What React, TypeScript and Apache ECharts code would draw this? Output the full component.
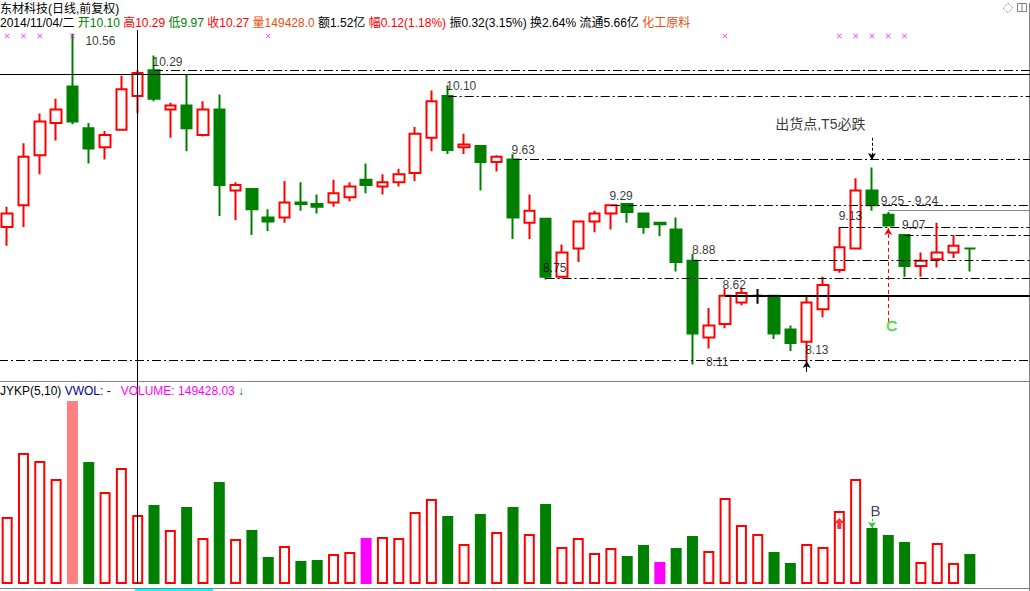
import React, { useEffect, useRef } from 'react';
import * as echarts from 'echarts';

// ---------- data ----------
const dates = [
  '2014/10/23', '2014/10/24', '2014/10/27', '2014/10/28', '2014/10/29', '2014/10/30', '2014/10/31', '2014/11/03',
  '2014/11/04', '2014/11/05', '2014/11/06', '2014/11/07', '2014/11/10', '2014/11/11', '2014/11/12', '2014/11/13',
  '2014/11/14', '2014/11/17', '2014/11/18', '2014/11/19', '2014/11/20', '2014/11/21', '2014/11/24', '2014/11/25',
  '2014/11/26', '2014/11/27', '2014/11/28', '2014/12/01', '2014/12/02', '2014/12/03', '2014/12/04', '2014/12/05',
  '2014/12/08', '2014/12/09', '2014/12/10', '2014/12/11', '2014/12/12', '2014/12/15', '2014/12/16', '2014/12/17',
  '2014/12/18', '2014/12/19', '2014/12/22', '2014/12/23', '2014/12/24', '2014/12/25', '2014/12/26', '2014/12/29',
  '2014/12/30', '2014/12/31', '2015/01/05', '2015/01/06', '2015/01/07', '2015/01/08', '2015/01/09', '2015/01/12',
  '2015/01/13', '2015/01/14', '2015/01/15', '2015/01/16', ' ', '  ', '   ', '    ',
];

const opens = [
  9.13, 9.29, 9.66, 9.90, 10.17, 9.86, 9.72, 9.85, 10.10, 10.29,
  10.00, 10.03, 9.81, 10.00, 9.40, 9.41, 9.20, 9.20, 9.31, 9.30,
  9.31, 9.35, 9.48, 9.43, 9.46, 9.53, 9.79, 10.10, 9.72, 9.73,
  9.61, 9.63, 9.16, 9.19, 8.76, 8.97, 9.17, 9.23, 9.30, 9.23,
  9.16, 9.11, 8.88, 8.31, 8.41, 8.57, 8.62, 8.62, 8.37, 8.28,
  8.52, 8.81, 8.97, 9.40, 9.22, 9.07, 8.84, 8.89, 8.94, 8.97,
];
const closes = [
  9.23, 9.65, 9.91, 10.00, 9.91, 9.71, 9.81, 10.15, 10.27, 10.08,
  10.03, 9.86, 10.00, 9.44, 9.44, 9.26, 9.17, 9.31, 9.30, 9.28,
  9.38, 9.43, 9.44, 9.46, 9.52, 9.82, 10.06, 9.70, 9.74, 9.61,
  9.65, 9.20, 9.25, 8.76, 8.94, 9.17, 9.23, 9.29, 9.24, 9.13,
  9.15, 8.87, 8.34, 8.40, 8.62, 8.64, 8.62, 8.34, 8.27, 8.57,
  8.70, 8.98, 9.40, 9.29, 9.14, 8.84, 8.88, 8.94, 8.99, 8.97,
];
const lows = [
  8.99, 9.13, 9.52, 9.77, 9.89, 9.60, 9.63, 9.85, 9.97, 10.06,
  9.79, 9.69, 9.80, 9.21, 9.18, 9.07, 9.10, 9.16, 9.25, 9.23,
  9.28, 9.32, 9.38, 9.37, 9.43, 9.47, 9.69, 9.67, 9.67, 9.40,
  9.54, 9.04, 9.04, 8.74, 8.75, 8.87, 9.09, 9.11, 9.16, 9.08,
  9.06, 8.80, 8.11, 8.23, 8.38, 8.55, 8.56, 8.30, 8.21, 8.13,
  8.46, 8.79, 8.97, 9.25, 9.14, 8.76, 8.76, 8.83, 8.90, 8.80,
];
const highs = [
  9.28, 9.75, 9.97, 10.08, 10.56, 9.90, 9.84, 10.25, 10.29, 10.40,
  10.05, 10.26, 10.06, 10.11, 9.46, 9.41, 9.26, 9.47, 9.46, 9.37,
  9.48, 9.46, 9.60, 9.52, 9.56, 9.87, 10.14, 10.18, 9.82, 9.73,
  9.66, 9.67, 9.37, 9.19, 9.00, 9.17, 9.25, 9.29, 9.30, 9.23,
  9.16, 9.20, 8.93, 8.53, 8.67, 8.68, 8.67, 8.62, 8.40, 8.61,
  8.76, 9.13, 9.49, 9.57, 9.24, 9.07, 8.94, 9.16, 9.07, 8.97,
];
const volumes = [
  145100, 283700, 266400, 227400, 396300, 264200, 199200, 251200, 149428, 171100,
  116900, 166700, 99600, 220900, 97500, 116900, 58500, 82300, 49800, 52000,
  65000, 69300, 99600, 101800, 99600, 155900, 184100, 147300, 86600, 151600,
  112600, 166700, 108300, 173200, 80100, 99600, 67100, 78000, 60600, 84500,
  47600, 78000, 103900, 71500, 186200, 127800, 108300, 69300, 45500, 86600,
  80100, 158100, 227400, 121300, 106100, 91000, 47600, 88800, 45500, 65000,
];
// u = rising (hollow red), d = falling (green), p = pink highlight, m = magenta highlight
const volKind = [
  'u', 'u', 'u', 'u', 'p', 'd', 'u', 'u', 'u', 'd',
  'u', 'd', 'u', 'd', 'u', 'd', 'd', 'u', 'd', 'd',
  'u', 'u', 'm', 'u', 'u', 'u', 'u', 'd', 'u', 'd',
  'u', 'd', 'u', 'd', 'u', 'u', 'u', 'u', 'd', 'd',
  'm', 'd', 'd', 'u', 'u', 'u', 'u', 'd', 'd', 'u',
  'u', 'u', 'u', 'd', 'd', 'd', 'u', 'u', 'u', 'd',
];

// price levels marked on the chart
const levelStart = [9, 27, 31, 37, 51, 55, 42, 33];
const levelPrice = [10.29, 10.10, 9.63, 9.29, 9.13, 9.07, 8.88, 8.75];
const annoIdx = [4, 9, 27, 31, 37, 33, 42, 44, 42, 51, 54, 55, 49];
const annoPrice = [10.56, 10.29, 10.10, 9.63, 9.29, 8.75, 8.88, 8.62, 8.11, 9.13, 9.24, 9.07, 8.13];
const annoText = ['10.56', '10.29', '10.10', '9.63', '9.29', '8.75', '8.88', '8.62', '8.11', '9.13', '9.25 - 9.24', '9.07', '8.13'];
const signalIdx = [0, 1, 2, 4, 16, 44, 51, 52, 53, 54, 55];
const signalPrice = 10.544;
const cursorIdx = 8;
const cursorPrice = 10.255;
const supportPrice = 8.62;
const supportStart = 44;
const bottomLevel = 8.144;
const gapLevel = 9.255;
const gapStart = 54;

// ---------- styles ----------
const FONT = '"Liberation Sans", Arial, "Noto Sans CJK SC", sans-serif';
const RED = '#ff0000';
const GREEN = '#008000';
const DASHDOT = { color: '#000', width: 1, type: [9, 3, 2, 3] as any };
const annoOffset: number[][] = [
  [13.5, 8], [-1, -8], [-1, -9], [-1, -9], [-1, -9], [-2, -10], [0, -10],
  [-2, -10], [14, -2], [0, -10], [-7, -11], [-2, -9], [-1, -11],
];
const candleOverride: Record<number, string> = { 46: '#000000', 59: GREEN };
const XPATH = 'path://M0,1 L1,0 L5,4 L9,0 L10,1 L6,5 L10,9 L9,10 L5,6 L1,10 L0,9 L4,5 Z';
const UPARROW = 'path://M5,0 L10,5 L7,5 L7,11 L3,11 L3,5 L0,5 Z';
const OX = 1; // chart canvas is shifted 1px left; frame graphics compensate

function volStyle(k: string) {
  if (k === 'u') return { color: '#ffffff', borderColor: RED, borderWidth: 2 };
  if (k === 'p') return { color: '#ff8080', borderColor: '#ff8080', borderWidth: 2 };
  if (k === 'm') return { color: '#ff00ff', borderColor: '#ff00ff', borderWidth: 2 };
  return { color: GREEN, borderColor: GREEN, borderWidth: 2 };
}

export default function App() {
  const ref = useRef<HTMLDivElement>(null);

  useEffect(() => {
    if (!ref.current) return;
    const chart = echarts.init(ref.current, undefined, { renderer: 'svg' });
    const slot = 16.317;
    const gridW = dates.length * slot;

    const candleData = opens.map((o, i) => {
      const item: any = { value: [o, closes[i], lows[i], highs[i]] };
      const c = candleOverride[i];
      if (c) {
        item.itemStyle = { color: c, color0: c, borderColor: c, borderColor0: c, borderColorDoji: c };
      }
      return item;
    });

    const lastIdx = dates.length - 1;
    const priceLines: any[] = levelStart.map((s, i) => [
      { coord: [s, levelPrice[i]], lineStyle: DASHDOT },
      { coord: [lastIdx, levelPrice[i]] },
    ]);
    priceLines.push({ yAxis: bottomLevel, lineStyle: DASHDOT });
    priceLines.push([
      { coord: [supportStart, supportPrice], lineStyle: { color: '#000', width: 2, type: 'solid' } },
      { coord: [lastIdx, supportPrice] },
    ]);
    priceLines.push([
      { coord: [gapStart, gapLevel], lineStyle: { color: '#888', width: 1, type: 'solid' } },
      { coord: [lastIdx, gapLevel] },
    ]);
    priceLines.push({ xAxis: cursorIdx, lineStyle: { color: '#000', width: 1, type: 'solid' } });
    priceLines.push({ yAxis: cursorPrice, lineStyle: { color: '#000', width: 1, type: 'solid' } });
    // arrows
    priceLines.push([
      { coord: [53, 9.79], lineStyle: { color: '#000', width: 1, type: [3, 2] } },
      { coord: [53, 9.625], symbol: 'arrow', symbolSize: [6, 7] },
    ]);
    priceLines.push([
      { coord: [54, 8.426], lineStyle: { color: RED, width: 1, type: [4, 3] } },
      { coord: [54, 9.122], symbol: 'arrow', symbolSize: [6, 7] },
    ]);
    priceLines.push([
      { coord: [49, 8.055], lineStyle: { color: '#000', width: 1, type: 'solid' } },
      { coord: [49, 8.137], symbol: 'arrow', symbolSize: [6, 7] },
    ]);

    const annoData: any[] = annoText.map((t, i) => ({
      name: t,
      value: [annoIdx[i], annoPrice[i]],
      label: { position: annoOffset[i] },
    }));
    annoData.push({
      name: '出货点,T5必跌',
      value: [53, 9.892],
      label: { position: [-6, 0], align: 'right', fontSize: 14 },
    });
    annoData.push({
      name: 'C',
      value: [54, 8.396],
      label: { position: [4, 0], align: 'center', fontSize: 15, color: '#33ee33', textBorderColor: '#119911', textBorderWidth: 0.6 },
    });

    const volData = volumes.map((v, i) => ({ value: v, itemStyle: volStyle(volKind[i]) }));

    const option: any = {
      animation: false,
      backgroundColor: '#ffffff',
      title: [
        {
          text: '东材科技(日线,前复权)',
          left: OX, top: 2, padding: 0,
          textStyle: { fontSize: 12, fontWeight: 'normal', color: '#000', fontFamily: FONT, lineHeight: 14 },
        },
        {
          text: '{k|2014/11/04/二} {g|开10.10} {r|高10.29} {g|低9.97} {r|收10.27} {o|量149428.0} {k|额1.52亿} {r|幅0.12(1.18%)} {k|振0.32(3.15%)} {k|换2.64%} {k|流通5.66亿} {o|化工原料}',
          left: OX, top: 16, padding: 0,
          textStyle: {
            fontSize: 12, fontWeight: 'normal', color: '#000', fontFamily: FONT, lineHeight: 14,
            rich: {
              k: { color: '#000', fontSize: 12, fontFamily: FONT },
              g: { color: GREEN, fontSize: 12, fontFamily: FONT },
              r: { color: RED, fontSize: 12, fontFamily: FONT },
              o: { color: '#e8500c', fontSize: 12, fontFamily: FONT },
            },
          },
        },
        {
          text: '{k|JYKP(5,10)} {n|VWOL: -}   {m|VOLUME: 149428.03} {a|↓}',
          left: OX, top: 384, padding: 0,
          textStyle: {
            fontSize: 12, fontWeight: 'normal', color: '#000', fontFamily: FONT, lineHeight: 14,
            rich: {
              k: { color: '#000', fontSize: 12, fontFamily: FONT },
              n: { color: '#000080', fontSize: 12, fontFamily: FONT },
              m: { color: '#ff00ff', fontSize: 12, fontFamily: FONT },
              a: { color: GREEN, fontSize: 12, fontFamily: FONT },
            },
          },
        },
      ],
      grid: [
        { left: 0, top: 30, width: gridW, height: 351 },
        { left: 0, top: 381, width: gridW, height: 203 },
      ],
      xAxis: [
        { type: 'category', gridIndex: 0, data: dates, show: false },
        { type: 'category', gridIndex: 1, data: dates, show: false },
      ],
      yAxis: [
        { type: 'value', gridIndex: 0, min: 7.9885, max: 10.5885, show: false, splitLine: { show: false } },
        { type: 'value', gridIndex: 1, min: 0, max: 439600, show: false, splitLine: { show: false } },
      ],
      series: [
        {
          type: 'candlestick',
          name: 'K',
          xAxisIndex: 0,
          yAxisIndex: 0,
          barWidth: 11,
          data: candleData,
          itemStyle: {
            color: '#ffffff', color0: GREEN, borderColor: RED, borderColor0: GREEN, borderWidth: 2,
          },
          markLine: {
            silent: true,
            symbol: ['none', 'none'],
            label: { show: false },
            emphasis: { disabled: true },
            data: priceLines,
          },
        },
        {
          type: 'scatter',
          name: 'labels',
          xAxisIndex: 0,
          yAxisIndex: 0,
          symbolSize: 1,
          silent: true,
          z: 5,
          itemStyle: { color: 'transparent' },
          label: {
            show: true, formatter: '{b}', color: '#000', fontSize: 12, fontFamily: FONT,
            align: 'left', verticalAlign: 'middle',
          },
          data: annoData,
        },
        {
          type: 'scatter',
          name: 'signals',
          xAxisIndex: 0,
          yAxisIndex: 0,
          symbol: XPATH,
          symbolSize: 5,
          silent: true,
          itemStyle: { color: '#ff00ff' },
          data: signalIdx.map((i) => [i, signalPrice]),
        },
        {
          type: 'bar',
          name: 'VOLUME',
          xAxisIndex: 1,
          yAxisIndex: 1,
          barWidth: 11,
          data: volData,
          markLine: {
            silent: true,
            symbol: ['none', 'none'],
            label: { show: false },
            data: [
              { xAxis: cursorIdx, lineStyle: { color: '#000', width: 1, type: 'solid' } },
              [
                { coord: [53, 149400], lineStyle: { color: '#22cc22', width: 1, type: [2, 2] } },
                { coord: [53, 121300], symbol: 'arrow', symbolSize: [6, 6] },
              ],
            ],
          },
        },
        {
          type: 'scatter',
          name: 'volmarks',
          xAxisIndex: 1,
          yAxisIndex: 1,
          silent: true,
          z: 5,
          data: [
            { value: [51, 131000], symbol: UPARROW, symbolSize: [10, 11], itemStyle: { color: RED } },
            {
              name: 'B', value: [53, 158100], symbolSize: 1, itemStyle: { color: 'transparent' },
              label: {
                show: true, formatter: '{b}', position: [4, 0], align: 'center', verticalAlign: 'middle',
                fontSize: 15, color: '#101030', fontFamily: FONT,
              },
            },
          ],
        },
      ],
      graphic: [
        { type: 'line', silent: true, shape: { x1: OX, y1: 381.5, x2: 1029 + OX, y2: 381.5 }, style: { stroke: '#808080', lineWidth: 1 } },
        { type: 'line', silent: true, shape: { x1: OX, y1: 588.5, x2: 1029 + OX, y2: 588.5 }, style: { stroke: '#808080', lineWidth: 1 } },
        { type: 'line', silent: true, shape: { x1: 1029.5 + OX, y1: 3, x2: 1029.5 + OX, y2: 591 }, style: { stroke: '#808080', lineWidth: 1 } },
        { type: 'rect', silent: true, shape: { x: 135 + OX, y: 589, width: 78, height: 2 }, style: { fill: '#00ffff' } },
        { type: 'polygon', silent: true, shape: { points: [[1008 + OX, 3], [1013 + OX, 8], [1008 + OX, 13], [1003 + OX, 8]] }, style: { fill: 'none', stroke: '#808080', lineWidth: 1, lineDash: [1, 1] } },
        { type: 'rect', silent: true, shape: { x: 1017.5 + OX, y: 3.5, width: 9, height: 8 }, style: { fill: 'none', stroke: '#808080', lineWidth: 1 } },
        { type: 'line', silent: true, shape: { x1: 1022 + OX, y1: 3.5, x2: 1022 + OX, y2: 11.5 }, style: { stroke: '#808080', lineWidth: 1 } },
      ],
    };

    chart.setOption(option);
    return () => {
      chart.dispose();
    };
  }, []);

  return (
    <div style={{ position: 'fixed', left: 0, top: 0, width: 1030, height: 591, overflow: 'hidden', background: '#fff' }}>
      <div
        ref={ref}
        style={{ position: 'absolute', left: -OX, top: 0, width: 1062, height: 591, background: '#fff' }}
      />
    </div>
  );
}
